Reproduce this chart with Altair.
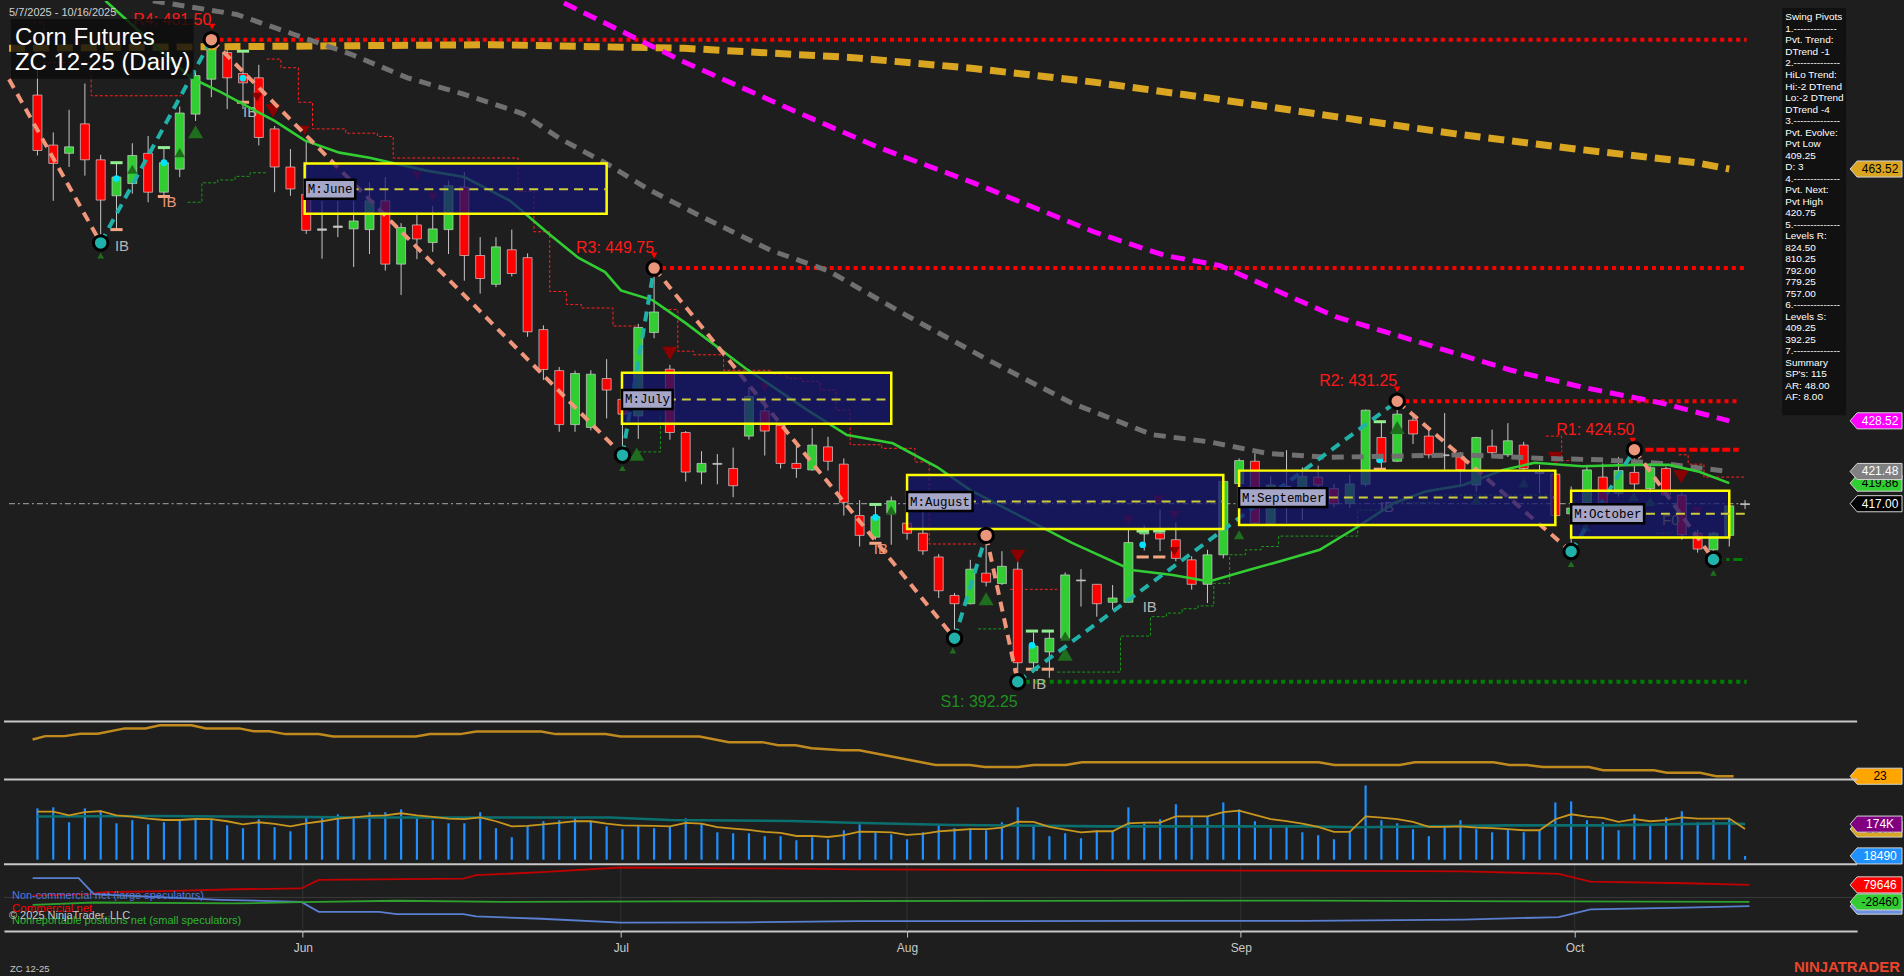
import altair as alt
import pandas as pd

FONT = "Liberation Sans"
NARROW = "Liberation Sans Narrow, Liberation Sans"
MONO = "Liberation Mono"
BG = "#1e1e1e"
LINE_C = "#c8c8c8"

# ---------------- daily bars, index 0 = 7 May 2025 ----------------
opens = [473.8, 466.85, 465.7, 469.8, 464.8, 459.8, 461.5, 465.7, 460.3, 463.5,
         471.15, 476.0, 479.7, 476.8, 476.2, 469.1, 463.8, 460.0, 455.2, 455.4,
         455.2, 455.1, 459.1, 450.3, 455.75, 453.3, 455.1, 461.0, 451.5, 447.5,
         452.3, 451.2, 441.2, 435.5, 428.0, 427.6, 434.4, 431.5, 429.2, 440.8,
         435.7, 426.9, 421.4, 422.6, 421.9, 426.4, 429.9, 427.9, 422.6, 421.7,
         424.9, 422.5, 415.35, 412.35, 415.7, 414.3, 412.9, 409.6, 404.25, 403.1,
         407.35, 405.9, 407.9, 394.9, 396.4, 398.3, 406.4, 405.8, 403.3, 403.3,
         412.8, 412.9, 412.0, 409.2, 405.8, 409.9, 419.8, 422.9, 414.3, 419.4,
         417.5, 420.7, 419.1, 417.05, 419.7, 426.2, 422.9, 428.6, 426.4, 423.8,
         423.5, 419.6, 425.0, 423.8, 425.15, 421.4, 421.1, 415.6, 417.15, 420.7,
         418.45, 421.35, 419.1, 421.9, 418.2, 412.9, 410.6, 412.6, 417.0]
highs = [477.4, 468.6, 471.75, 475.4, 465.5, 464.5, 467.1, 468.1, 466.5, 472.2,
         477.2, 481.5, 480.4, 480.0, 478.0, 469.5, 466.3, 467.5, 459.1, 459.1,
         459.1, 461.7, 462.4, 456.0, 457.5, 458.4, 461.9, 463.1, 454.05, 454.05,
         455.1, 451.8, 441.8, 436.0, 435.5, 435.56, 437.1, 432.3, 442.0, 449.75,
         436.3, 427.1, 424.3, 423.9, 424.8, 433.2, 431.9, 428.2, 425.0, 427.5,
         426.3, 423.3, 417.5, 416.8, 418.0, 415.2, 415.9, 410.0, 404.6, 409.2,
         412.6, 410.4, 410.4, 399.1, 399.3, 407.45, 407.9, 405.8, 405.7, 413.4,
         414.0, 416.2, 414.4, 409.7, 410.6, 420.3, 423.3, 424.0, 420.8, 424.45,
         422.05, 422.3, 419.75, 421.0, 430.1, 428.4, 431.25, 429.1, 427.5, 429.6,
         424.2, 426.3, 427.3, 428.2, 425.6, 422.4, 421.45, 419.4, 422.4, 422.6,
         423.5, 424.5, 422.6, 422.15, 418.9, 413.4, 413.1, 418.0, 417.5]
lows = [465.4, 459.1, 463.8, 462.6, 453.25, 455.1, 460.1, 458.9, 459.6, 462.4,
        470.2, 473.5, 471.85, 471.85, 466.8, 460.3, 459.8, 454.5, 451.05, 454.05,
        449.9, 451.7, 449.4, 446.0, 451.0, 452.0, 451.7, 448.0, 446.2, 447.1,
        448.6, 440.2, 434.2, 427.0, 427.0, 427.2, 428.85, 423.75, 426.0, 440.0,
        425.9, 420.1, 419.7, 419.7, 417.9, 425.9, 423.7, 421.9, 420.6, 421.6,
        421.6, 415.35, 411.05, 412.0, 411.3, 412.0, 409.9, 403.9, 398.3, 403.0,
        405.5, 405.7, 392.25, 393.5, 392.8, 398.1, 402.7, 401.3, 402.3, 403.2,
        410.5, 410.4, 409.0, 405.05, 403.2, 409.4, 418.5, 414.05, 414.2, 414.3,
        414.75, 417.05, 416.5, 416.4, 419.4, 421.7, 422.8, 425.3, 423.3, 421.7,
        419.3, 418.7, 423.5, 423.5, 421.7, 418.45, 415.2, 410.35, 414.0, 415.9,
        418.0, 418.9, 418.45, 418.0, 412.0, 410.2, 409.25, 411.05, 416.25]
closes = [466.1, 464.3, 466.6, 464.8, 459.2, 462.4, 465.4, 460.3, 464.4, 471.3,
          476.5, 480.4, 476.2, 475.5, 467.9, 463.8, 460.75, 455.0, 455.0, 455.6,
          456.3, 459.1, 450.3, 455.4, 453.8, 455.2, 461.2, 451.5, 448.3, 452.7,
          449.0, 440.9, 435.65, 428.0, 435.1, 435.0, 432.8, 429.45, 441.5, 443.65,
          426.9, 421.4, 422.6, 422.5, 419.5, 431.9, 427.1, 422.6, 421.9, 425.15,
          422.9, 417.2, 412.6, 415.2, 417.4, 412.9, 410.45, 404.9, 403.1, 407.9,
          406.1, 408.3, 394.9, 397.2, 398.3, 407.1, 406.3, 403.1, 403.9, 411.6,
          413.3, 412.1, 409.4, 405.8, 409.9, 420.1, 423.0, 414.3, 419.6, 419.3,
          420.8, 419.6, 417.0, 419.75, 430.0, 422.8, 429.45, 426.7, 423.8, 423.7,
          421.7, 426.2, 424.1, 425.75, 421.9, 421.2, 415.35, 416.4, 421.7, 416.1,
          421.6, 419.75, 422.0, 418.2, 412.7, 410.7, 412.9, 416.7, 417.0]

# volume (thousands of contracts) and its averages
volume_k = [251, 256, 183, 251, 241, 178, 193, 173, 183, 198,
            202, 198, 168, 154, 198, 159, 139, 212, 212, 222,
            212, 232, 232, 246, 202, 193, 178, 178, 232, 154,
            110, 163, 188, 193, 207, 188, 163, 149, 168, 154,
            163, 202, 178, 134, 129, 129, 115, 115, 95, 110,
            100, 144, 173, 134, 124, 100, 134, 168, 154, 154,
            144, 183, 256, 168, 115, 129, 105, 144, 139, 256,
            178, 198, 271, 207, 212, 280, 246, 188, 154, 168,
            134, 120, 100, 134, 363, 193, 178, 149, 115, 159,
            193, 149, 134, 149, 134, 144, 280, 285, 193, 183,
            144, 222, 168, 207, 237, 183, 193, 198, 18.49]
vol_fast = [235, 235, 217, 233, 237, 217, 211, 201, 194, 194,
            199, 198, 188, 173, 183, 175, 163, 178, 188, 201,
            207, 214, 217, 227, 217, 209, 201, 198, 207, 188,
            163, 165, 173, 180, 189, 188, 176, 168, 167, 165,
            163, 180, 176, 159, 152, 146, 136, 131, 116, 116,
            111, 120, 137, 136, 134, 121, 126, 139, 144, 149,
            149, 157, 186, 185, 160, 147, 134, 139, 139, 178,
            181, 181, 212, 212, 212, 233, 240, 219, 198, 189,
            176, 160, 136, 136, 212, 206, 198, 185, 160, 160,
            163, 157, 154, 149, 144, 144, 198, 222, 211, 204,
            185, 198, 188, 193, 207, 201, 201, 201, 150]
vol_slow_i = [0, 7.7, 21.0, 36.2, 40.0, 47.7, 51.5, 57.9, 67.4, 80.3, 83.5, 93.0, 99.4, 107.0, 108]
vol_slow_v = [211, 214, 206, 206, 194, 189, 181, 170, 163, 163, 159, 168, 168, 178, 174]

# trend strength
adx_i = [0.0, 0.8, 2.0, 3.0, 4.1, 5.8, 7.1, 8.0, 10.0, 10.9, 13.0, 13.9, 14.9, 15.9, 18.0,
         18.9, 24.1, 25.0, 26.9, 27.9, 32.0, 32.9, 36.05, 37.0, 41.95, 43.8, 45.9, 46.9, 48.0,
         49.0, 50.9, 52.0, 56.8, 58.96, 59.9, 62.0, 62.96, 65.0, 66.0, 80.9, 81.9, 86.0, 86.95,
         91.9, 92.9, 94.0, 95.0, 97.9, 98.8, 102.0, 102.8, 104.9, 105.9, 107.0]
adx_v = [35.9, 37.1, 37.1, 37.9, 37.9, 39.8, 39.8, 40.9, 40.9, 39.8, 39.8, 38.8, 38.8, 37.8, 37.8,
         37.0, 37.0, 37.8, 37.8, 38.7, 38.7, 37.8, 37.8, 37.0, 37.0, 35.0, 35.0, 33.9, 33.9,
         32.9, 32.2, 32.2, 27.0, 27.0, 26.3, 26.3, 27.0, 27.0, 28.0, 28.0, 27.0, 27.0, 28.0,
         28.0, 27.0, 27.0, 26.3, 26.3, 25.2, 25.2, 24.3, 24.3, 23.1, 23.1]

# commitments of traders (thousands of contracts)
cot_red_i = [0, 3.6, 4.5, 8.9, 12.8, 16.9, 18.0, 27.1, 27.9, 32, 37, 45, 52, 60, 70, 80, 90, 96, 98, 104, 108]
cot_red_v = [12, 21, 33, 42, 52, 57, 111, 120, 141, 160, 190, 185, 178, 175, 172, 170, 165, 150, 100, 90, 79.646]
cot_blue_i = [0, 2.9, 3.85, 11.8, 16.9, 18.0, 21.8, 22.9, 27.1, 27.9, 32, 37, 45, 52, 60, 70, 80, 90, 96, 98, 104, 108]
cot_blue_v = [122, 122, 21, -15, -28, -91, -91, -106, -106, -120, -135, -160, -158, -150, -150, -148, -148, -140, -125, -75, -65, -55]
cot_green_i = [0, 3.85, 12.8, 16.9, 18.0, 22.9, 29.6, 40, 60, 80, 96, 108]
cot_green_v = [-47, -32, -38, -30, -28, -21, -28, -25, -22, -20, -25, -28.46]

# moving averages (bar index, price)
ma_green_i = [4.3, 9.7, 11.6, 15.0, 16.9, 19.1, 21.0, 24.6, 27.0, 29.9, 32.3, 34.2, 35.9, 36.9, 38.9,
              41.0, 44.8, 48.7, 51.2, 54.1, 56.9, 59.0, 61.0, 65.4, 69.2, 71.8, 74.1, 76.6, 78.6,
              81.1, 83.5, 85.8, 87.8, 90.2, 92.7, 94.7, 97.7, 101.1, 103.2, 105.1, 107.0]
ma_green_v = [486.9, 476.2, 474.2, 470.2, 467.5, 465.8, 465.1, 463.3, 462.4, 459.1, 454.6, 451.2, 449.2,
              446.65, 445.3, 442.1, 435.8, 430.0, 426.55, 425.4, 422.1, 418.9, 416.6, 411.6, 407.8,
              407.1, 406.2, 407.8, 409.0, 410.6, 413.8, 417.1, 418.7, 419.6, 421.7, 422.7, 422.2,
              422.4, 422.4, 421.45, 419.86]
ma_grey_i = [7.3, 12.6, 16.2, 19.8, 23.4, 27.0, 30.7, 33.0, 36.05, 38.8, 42.1, 46.4, 50.0, 55.1,
             60.2, 65.4, 70.5, 74.1, 77.8, 81.6, 85.3, 90.2, 95.2, 98.95, 102.7, 107.0]
ma_grey_v = [486.9, 485.0, 482.25, 479.5, 476.2, 473.9, 471.2, 467.8, 464.2, 460.5, 456.8, 452.2,
             449.4, 443.0, 436.9, 431.0, 426.6, 425.6, 424.0, 423.45, 423.6, 423.8, 423.3, 423.1,
             422.6, 421.48]
ma_mag_i = [33.3, 40.9, 47.7, 53.1, 59.2, 66.8, 71.3, 74.8, 82.1, 93.2, 97.7, 102.7, 107.0]
ma_mag_v = [486.6, 478.4, 471.75, 466.6, 461.6, 454.8, 451.5, 450.1, 443.0, 435.55, 433.2, 431.0, 428.52]
ma_gold_i = [-1.8, 10.4, 28.7, 40.9, 51.6, 59.2, 66.8, 74.4, 82.1, 89.7, 97.3, 104.9, 107.0]
ma_gold_v = [480.3, 480.5, 480.8, 480.3, 479.0, 477.5, 475.6, 473.3, 470.8, 468.4, 466.3, 464.4, 463.52]

# swing pivots (bar index, price) in time order
swing_i = [-1.8, 4, 11, 37, 39, 58, 60, 62, 86, 97, 101, 106]
swing_v = [476.0, 453.25, 481.5, 423.75, 449.75, 398.3, 412.6, 392.25, 431.25, 410.35, 424.5, 409.25]

# trailing stops: list of step paths
red_stops = [
    [(-0.25, 483.9), (0.4, 483.9), (0.4, 478.3), (3.4, 478.3), (3.4, 473.7), (9.1, 473.7)],
    [(14.5, 478.8), (15.4, 478.8), (15.4, 477.6), (16.5, 477.6), (16.5, 472.8), (17.4, 472.8),
     (17.4, 469.1), (19.5, 469.1), (19.5, 468.5), (21.5, 468.5), (21.5, 468.05), (22.5, 468.05),
     (22.5, 465.05), (30.4, 465.05), (30.4, 460.4), (31.4, 460.4), (31.4, 454.8), (32.4, 454.8),
     (32.4, 446.5), (33.45, 446.5), (33.45, 444.7), (34.4, 444.7), (34.4, 444.2), (36.4, 444.2),
     (36.4, 441.7), (38.0, 441.7)],
    [(39.6, 444.0), (40.5, 444.0), (40.5, 438.2), (41.5, 438.2), (41.5, 437.7), (43.4, 437.7),
     (43.4, 435.55), (46.4, 435.55), (46.4, 435.0), (47.4, 435.0), (47.4, 434.4), (48.4, 434.4),
     (48.4, 434.0), (49.5, 434.0), (49.5, 432.8), (50.5, 432.8), (50.5, 430.0), (51.4, 430.0),
     (51.4, 425.2), (53.4, 425.2), (53.4, 424.7), (55.5, 424.7), (55.5, 422.8), (56.4, 422.8),
     (56.4, 411.4), (59.5, 411.4)],
    [(61.5, 405.1), (64.5, 405.1)],
    [(95.4, 426.4), (96.4, 426.4), (96.4, 423.0), (97.0, 423.0)],
    [(103.8, 423.8), (104.4, 423.8), (104.4, 422.5), (105.4, 422.5), (105.4, 420.7), (108.0, 420.7)],
]
green_stops = [
    [(9.5, 458.9), (10.4, 458.9), (10.4, 461.6), (11.4, 461.6), (11.4, 462.0), (12.5, 462.0),
     (12.5, 462.5), (13.45, 462.5), (13.45, 463.0), (14.5, 463.0)],
    [(38.0, 424.2), (39.4, 424.2), (39.4, 429.6)],
    [(59.5, 399.6), (61.25, 399.6)],
    [(64.5, 393.6), (68.5, 393.6), (68.5, 398.6), (70.4, 398.6), (70.4, 401.3), (71.4, 401.3),
     (71.4, 401.8), (72.4, 401.8), (72.4, 402.4), (73.4, 402.4), (73.4, 402.8), (74.4, 402.8),
     (74.4, 405.95), (75.4, 405.95), (75.4, 409.9), (76.4, 409.9), (76.4, 410.6), (77.4, 410.6),
     (77.4, 411.05), (78.5, 411.05), (78.5, 412.5), (83.5, 412.5), (83.5, 416.1), (85.4, 416.1),
     (85.4, 417.15), (88.4, 417.15), (88.4, 418.2), (95.8, 418.2)],
    [(102.4, 412.9), (103.4, 412.9)],
]

# signal triangles
up_i = [10.0, 9.0, 6.0, 4.0, 37.9, 37.0, 54.0, 60.0, 57.9, 65.0, 65.0, 86.0, 76.0, 94.0, 91.0,
        97.9, 100.95, 102.0, 97.0, 106.0]
up_v = [468.7, 465.8, 463.5, 451.5, 423.9, 421.96, 416.1, 403.8, 396.6, 398.6, 396.1, 427.6, 412.7,
        419.9, 417.5, 413.8, 418.0, 417.3, 408.6, 407.4]
up_kind = ["L", "M", "M", "S", "L", "S", "M", "L", "S", "M", "L", "L", "M", "M", "M", "M", "M", "M", "S", "S"]
dn_i = [11.05, 13.9, 14.9, 16.9, 18.9, 24.0, 25.0, 39.0, 40.0, 46.0, 62.0, 69.0, 70.9, 71.9, 71.9,
        86.0, 96.0, 103.95, 105.0, 100.9]
dn_v = [483.3, 473.5, 471.6, 468.9, 463.75, 462.6, 459.6, 451.5, 437.9, 433.2, 409.7, 414.75, 417.5,
        415.4, 410.35, 432.9, 423.3, 420.75, 415.9, 425.75]
dn_kind = ["S", "M", "L", "M", "M", "M", "M", "S", "L", "M", "L", "M", "M", "M", "M", "S", "L", "L", "M", "S"]

# inside-bar markers
ib_i = [5.0, 8.0, 13.0, 53.0, 62.9, 69.9, 84.9]
ib_hi = [464.4, 466.5, 479.9, 416.9, 399.3, 413.2, 428.4]
ib_lo = [455.1, 459.7, 472.8, 411.5, 394.0, 409.6, 421.8]
ib_dot = [462.2, 464.4, 476.15, 415.1, 397.3, 411.3, 423.1]
ib_extra_i = [63.9, 70.95]
ib_extra_hi = [399.3, 413.2]
ib_extra_lo = [394.0, 409.6]
ib_text_i = [4.9, 7.9, 13.0, 52.9, 62.9, 69.9, 84.9]
ib_text_v = [452.8, 459.0, 471.5, 410.7, 391.9, 402.7, 416.6]
ib_text_c = ["#b4b4b4", "#e9967a", "#b4b4b4", "#e9967a", "#b4b4b4", "#b4b4b4", "#b4b4b4"]

# monthly opening-range boxes
box_names = ["M:June", "M:July", "M:August", "M:September", "M:October"]
box_left = [16.9, 36.97, 55.0, 76.0, 97.0]
box_right = [36.0, 54.0, 75.0, 96.0, 107.0]
box_top = [464.3, 435.2, 421.0, 421.6, 418.8]
box_bot = [457.3, 428.1, 413.5, 414.05, 412.3]
box_mid = [460.7, 431.5, 417.3, 417.85, 415.6]
box_mid_end = [36.0, 54.0, 75.0, 96.0, 108.0]

# pivot levels
level_names = ["R4", "R3", "R2", "R1", "S1"]
level_i = [11, 39, 86, 101, 62]
level_v = [481.5, 449.75, 431.25, 424.5, 392.25]
level_end = [108.1, 108.1, 107.6, 107.6, 108.1]
pvt_low_now = 409.25
last_price = 417.0

month_ticks = [17, 37, 55, 76, 97]
month_names = ["Jun", "Jul", "Aug", "Sep", "Oct"]

info_lines = ["Swing Pivots", "1.-------------", "Pvt. Trend:", "DTrend -1", "2.--------------",
              "HiLo Trend:", "Hi:-2 DTrend", "Lo:-2 DTrend", "DTrend -4", "3.--------------",
              "Pvt. Evolve:", "Pvt Low", "409.25", "D: 3", "4.--------------", "Pvt. Next:",
              "Pvt High", "420.75", "5.--------------", "Levels R:", "824.50", "810.25", "792.00",
              "779.25", "757.00", "6.--------------", "Levels S:", "409.25", "392.25",
              "7.--------------", "Summary", "SP's: 115", "AR: 48.00", "AF: 8.00"]

# ---------------- scales ----------------
W = 1857
BAR_PX = 15.93
PRICE_PX = 7.21
XS = alt.Scale(domain=[-1.8, 114.77], nice=False, zero=False)
YS = alt.Scale(domain=[386.73, 486.87], nice=False, zero=False)
YA = alt.Scale(domain=[22.0, 42.2], nice=False, zero=False)
YV = alt.Scale(domain=[-22, 392.6], nice=False, zero=False)
YC = alt.Scale(domain=[-213.2, 210.8], nice=False, zero=False)
TAG = "M -1 0 L -0.73 -0.31 L 1 -0.31 L 1 0.31 L -0.73 0.31 Z"
ONE = pd.DataFrame({"a": [0]})

label_expr = " : ".join(f"datum.value == {t} ? '{n}'" for t, n in zip(month_ticks, month_names)) + " : ''"
X_AXIS = alt.Axis(values=month_ticks, labelExpr=label_expr, orient="bottom", title=None,
                  labelColor="#c8c8c8", labelFont=FONT, labelFontSize=12, tickColor=LINE_C,
                  tickSize=6, domainColor=LINE_C, domainWidth=2, grid=False, labelPadding=5)


def X(f="i", axis=None):
    return alt.X(f"{f}:Q", scale=XS, axis=axis)


def Y(f, s):
    return alt.Y(f"{f}:Q", scale=s, axis=None)


def path_df(paths):
    rows = []
    for s, pts in enumerate(paths):
        for k, (i, v) in enumerate(pts):
            rows.append({"seg": s, "k": k, "i": i, "v": v})
    return pd.DataFrame(rows)


def line_layer(xs, ys, scale, color, width, dash=None, clip=True, xaxis=None):
    d = pd.DataFrame({"i": xs, "v": ys})
    d["k"] = range(len(d))
    kw = dict(color=color, strokeWidth=width, clip=clip)
    if dash:
        kw["strokeDash"] = dash
    return alt.Chart(d).mark_line(**kw).encode(x=X("i", xaxis), y=Y("v", scale), order="k:Q")


def tag_layers(vals, labels, bgs, fgs, scale):
    out = []
    for v, lab, bg, fg in zip(vals, labels, bgs, fgs):
        d = pd.DataFrame({"v": [v], "lab": [lab]})
        out.append(alt.Chart(d).mark_point(shape=TAG, size=2704, filled=True, opacity=1,
                                           fill=bg, stroke="#d4d4d4", strokeWidth=1)
                   .encode(x=alt.value(1876), y=Y("v", scale)))
        out.append(alt.Chart(d).mark_text(font=FONT, fontSize=12, color=fg, align="center",
                                          baseline="middle")
                   .encode(x=alt.value(1880), y=Y("v", scale), text="lab:N"))
    return out


def sep_line(ypx):
    return alt.Chart(ONE).mark_rule(color=LINE_C, strokeWidth=2).encode(
        x=alt.value(0), x2=alt.value(W), y=alt.value(ypx))


# ---------------- price panel ----------------
bars = pd.DataFrame({"i": list(range(len(opens))), "o": opens, "h": highs, "l": lows, "c": closes})
bars["c2"] = [c if abs(c - o) >= 0.12 else o - 0.12 for o, c in zip(opens, closes)]
bars["col"] = ["#32cd32" if c - o > 0.25 else ("#ff0000" if o - c > 0.25 else "#bdbdbd")
               for o, c in zip(opens, closes)]

price_axis = alt.Axis(orient="right", values=list(range(390, 490, 5)), format=".2f", title=None,
                      labelColor="#c9d1dc", labelFont=FONT, labelFontSize=12, tickColor=LINE_C,
                      tickSize=5, domainColor=LINE_C, domainWidth=1.5, grid=False, labelPadding=3)

layers = []

# trailing stops
rs = path_df(red_stops)
layers.append(alt.Chart(rs).mark_line(color="#ff2020", strokeWidth=1, strokeDash=[3, 2])
              .encode(x=X(), y=Y("v", YS), detail="seg:N", order="k:Q"))
gs = path_df(green_stops)
layers.append(alt.Chart(gs).mark_line(color="#1a9a1a", strokeWidth=1, strokeDash=[3, 2])
              .encode(x=X(), y=Y("v", YS), detail="seg:N", order="k:Q"))

# pivot level lines
lv = pd.DataFrame({"name": level_names, "i": level_i, "v": level_v, "e": level_end})
lv["txt"] = [f"{n}: {v:.2f}" for n, v in zip(level_names, level_v)]
layers.append(alt.Chart(lv[lv.name.isin(["R4", "R3", "R2"])]).mark_rule(
    color="#ff0000", strokeWidth=4, strokeDash=[4, 4]).encode(x=X(), x2="e:Q", y=Y("v", YS)))
layers.append(alt.Chart(lv[lv.name == "R1"]).mark_rule(
    color="#ff0000", strokeWidth=4, strokeDash=[8, 3]).encode(x=X(), x2="e:Q", y=Y("v", YS)))
layers.append(alt.Chart(lv[lv.name == "S1"]).mark_rule(
    color="#008000", strokeWidth=4, strokeDash=[4, 4]).encode(x=X(), x2="e:Q", y=Y("v", YS)))
layers.append(alt.Chart(pd.DataFrame({"i": [106], "e": [108.1], "v": [pvt_low_now]})).mark_rule(
    color="#008000", strokeWidth=3, strokeDash=[9, 4, 3, 4]).encode(x=X(), x2="e:Q", y=Y("v", YS)))

# last price line
layers.append(alt.Chart(pd.DataFrame({"i": [-1.8], "e": [107.8], "v": [last_price]})).mark_rule(
    color="#8c8c8c", strokeWidth=1.2, strokeDash=[6, 3, 2, 3]).encode(x=X(), x2="e:Q", y=Y("v", YS)))

# candles
layers.append(alt.Chart(bars).mark_rule(color="#c8c8c8", strokeWidth=1).encode(
    x=X(), y=alt.Y("l:Q", scale=YS, axis=price_axis), y2="h:Q"))
layers.append(alt.Chart(bars).mark_bar(size=9, stroke="#d0d0d0", strokeWidth=0.7).encode(
    x=X(), y=Y("o", YS), y2="c2:Q", fill=alt.Fill("col:N", scale=None)))

# signal triangles
size_of = {"S": 45, "M": 110, "L": 230}
up = pd.DataFrame({"i": up_i, "v": up_v, "s": [size_of[k] for k in up_kind]})
dn = pd.DataFrame({"i": dn_i, "v": dn_v, "s": [size_of[k] for k in dn_kind],
                   "col": ["#ff0000" if k == "S" else "#8b0000" for k in dn_kind]})
layers.append(alt.Chart(up).mark_point(shape="triangle-up", filled=True, opacity=1, color="#1e6e1e")
              .encode(x=X(), y=Y("v", YS), size=alt.Size("s:Q", scale=None)))
layers.append(alt.Chart(dn).mark_point(shape="triangle-down", filled=True, opacity=1)
              .encode(x=X(), y=Y("v", YS), size=alt.Size("s:Q", scale=None),
                      color=alt.Color("col:N", scale=None)))

# inside-bar markers
ibm = pd.DataFrame({"i": ib_i + ib_extra_i, "hi": ib_hi + ib_extra_hi, "lo": ib_lo + ib_extra_lo})
layers.append(alt.Chart(ibm).mark_point(shape="stroke", size=150, strokeWidth=3, opacity=1,
                                        color="#90ee90").encode(x=X(), y=Y("hi", YS)))
layers.append(alt.Chart(ibm).mark_point(shape="stroke", size=150, strokeWidth=3, opacity=1,
                                        color="#f4a582").encode(x=X(), y=Y("lo", YS)))
layers.append(alt.Chart(pd.DataFrame({"i": ib_i, "v": ib_dot})).mark_point(
    shape="circle", filled=True, size=45, opacity=1, color="#00e5ff").encode(x=X(), y=Y("v", YS)))
ibt = pd.DataFrame({"i": ib_text_i, "v": ib_text_v, "col": ib_text_c, "t": ["IB"] * len(ib_text_i)})
layers.append(alt.Chart(ibt).mark_text(font=NARROW, fontSize=15, align="left", baseline="middle")
              .encode(x=X(), y=Y("v", YS), text="t:N", color=alt.Color("col:N", scale=None)))
layers.append(alt.Chart(pd.DataFrame({"i": [103.3], "v": [414.75], "t": ["F0"]})).mark_text(
    font=NARROW, fontSize=15, color="#b5b53c", align="center", baseline="middle")
    .encode(x=X(), y=Y("v", YS), text="t:N"))

# moving averages
layers.append(line_layer(ma_gold_i, ma_gold_v, YS, "#daa520", 7, [16, 8]))
layers.append(line_layer(ma_mag_i, ma_mag_v, YS, "#ff00ff", 5, [14, 8]))
layers.append(line_layer(ma_grey_i, ma_grey_v, YS, "#707070", 5, [12, 8]))
layers.append(line_layer(ma_green_i, ma_green_v, YS, "#32cd32", 2.6))

# swing zigzag
zz = []
for j in range(len(swing_i) - 1):
    down = swing_v[j + 1] < swing_v[j]
    for k in (0, 1):
        zz.append({"seg": j, "k": k, "i": swing_i[j + k], "v": swing_v[j + k],
                   "col": "#f0967a" if down else "#20b2aa"})
zz = pd.DataFrame(zz)
layers.append(alt.Chart(zz).mark_line(strokeWidth=4, strokeDash=[10, 7]).encode(
    x=X(), y=Y("v", YS), detail="seg:N", order="k:Q", color=alt.Color("col:N", scale=None)))

# monthly boxes
bx = pd.DataFrame({"name": box_names, "i": box_left, "r": box_right, "top": box_top,
                   "bot": box_bot, "mid": box_mid, "me": box_mid_end})
bx["lx2"] = [l + (len(n) * 7.5 + 6) / BAR_PX for l, n in zip(box_left, box_names)]
bx["ly1"] = [m + 9.5 / PRICE_PX for m in box_mid]
bx["ly2"] = [m - 9.5 / PRICE_PX for m in box_mid]
layers.append(alt.Chart(bx).mark_rect(fill="#141470", fillOpacity=0.74).encode(
    x=X(), x2="r:Q", y=Y("top", YS), y2="bot:Q"))
layers.append(alt.Chart(bx).mark_rect(fillOpacity=0, stroke="#ffff00", strokeWidth=2.5).encode(
    x=X(), x2="r:Q", y=Y("top", YS), y2="bot:Q"))
layers.append(alt.Chart(bx).mark_rule(color="#cccc3c", strokeWidth=2, strokeDash=[9, 6]).encode(
    x=X(), x2="me:Q", y=Y("mid", YS)))
layers.append(alt.Chart(bx).mark_rect(fill="#a6a6c8", stroke="#000000", strokeWidth=2.5).encode(
    x=X(), x2="lx2:Q", y=Y("ly1", YS), y2="ly2:Q"))
layers.append(alt.Chart(bx).mark_text(font=MONO, fontSize=12.5, color="#000000", align="left",
                                      baseline="middle", dx=3).encode(
    x=X(), y=Y("mid", YS), text="name:N"))

# pivot circles
pv = pd.DataFrame({"i": swing_i[1:], "v": swing_v[1:]})
pv["col"] = ["#20b2aa" if swing_v[j + 1] < swing_v[j] else "#e9967a" for j in range(len(swing_i) - 1)]
layers.append(alt.Chart(pv).mark_point(shape="circle", filled=True, size=210, opacity=1,
                                       stroke="#000000", strokeWidth=3)
              .encode(x=X(), y=Y("v", YS), fill=alt.Fill("col:N", scale=None)))

# level labels
layers.append(alt.Chart(lv[lv.name != "S1"]).mark_text(font=NARROW, fontSize=16, color="#ff1a1a",
                                                        align="right", baseline="middle", dy=-20)
              .encode(x=X(), y=Y("v", YS), text="txt:N"))
layers.append(alt.Chart(lv[lv.name == "S1"]).mark_text(font=NARROW, fontSize=16, color="#1f8f1f",
                                                        align="right", baseline="middle", dy=20)
              .encode(x=X(), y=Y("v", YS), text="txt:N"))

# title block
layers.append(alt.Chart(ONE).mark_rect(color="#0c0c0c", opacity=0.82).encode(
    x=alt.value(7), x2=alt.value(190), y=alt.value(18), y2=alt.value(78)))
layers.append(alt.Chart(ONE).mark_text(text=["Corn Futures", "ZC 12-25 (Daily)"], font=FONT,
                                       fontSize=24, lineHeight=25, color="#ffffff", align="left",
                                       baseline="alphabetic")
              .encode(x=alt.value(11), y=alt.value(44)))
layers.append(alt.Chart(ONE).mark_text(text="5/7/2025 - 10/16/2025", font=FONT, fontSize=11,
                                       color="#d0d0d0", align="left", baseline="alphabetic")
              .encode(x=alt.value(5), y=alt.value(15)))

# swing pivot summary
layers.append(alt.Chart(ONE).mark_rect(color="#111111").encode(
    x=alt.value(1782), x2=alt.value(1846), y=alt.value(7), y2=alt.value(415)))
layers.append(alt.Chart(ONE).mark_text(text=info_lines, font=FONT, fontSize=10, lineHeight=11.53,
                                       color="#ffffff", align="left", baseline="alphabetic")
              .encode(x=alt.value(1785), y=alt.value(19.5)))

# value tags on the price scale
layers += tag_layers([463.52, 428.52, 419.86, 421.48, 417.00],
                     ["463.52", "428.52", "419.86", "421.48", "417.00"],
                     ["#daa520", "#ff00ff", "#32cd32", "#808080", "#000000"],
                     ["#000000", "#ffffff", "#000000", "#ffffff", "#ffffff"], YS)

main = alt.layer(*layers).properties(width=W, height=722)

# ---------------- trend strength panel ----------------
adx_axis = alt.Axis(orient="right", values=[30, 40], labelExpr="datum.value == 30 ? '30' : ''",
                    title=None, labelColor="#c9d1dc", labelFont=FONT, labelFontSize=12,
                    tickColor=LINE_C, tickSize=5, domainColor=LINE_C, domainWidth=1.5, grid=False,
                    labelPadding=3)
adx_df = pd.DataFrame({"i": adx_i, "v": adx_v})
adx_df["k"] = range(len(adx_df))
adx = alt.layer(
    sep_line(0),
    alt.Chart(adx_df).mark_line(color="#c08a1e", strokeWidth=2.5).encode(
        x=X(), y=alt.Y("v:Q", scale=YA, axis=adx_axis), order="k:Q"),
    *tag_layers([23.1], ["23"], ["#ffa500"], ["#000000"], YA),
).properties(width=W, height=58)

# ---------------- volume panel ----------------
vol_axis = alt.Axis(orient="right", values=[100, 200, 300], labelExpr="datum.value + 'K'",
                    title=None, labelColor="#c9d1dc", labelFont=FONT, labelFontSize=12,
                    tickColor=LINE_C, tickSize=5, domainColor=LINE_C, domainWidth=1.5, grid=False,
                    labelPadding=3)
vol_df = pd.DataFrame({"i": list(range(len(volume_k))), "v": volume_k, "f": vol_fast, "z": 0})
vol = alt.layer(
    sep_line(0),
    alt.Chart(vol_df).mark_bar(size=2.2, color="#1e90ff").encode(
        x=X(), y=alt.Y("v:Q", scale=YV, axis=vol_axis), y2="z:Q"),
    line_layer(vol_slow_i, vol_slow_v, YV, "#0b6f6f", 2.6),
    alt.Chart(vol_df).mark_line(color="#c8961e", strokeWidth=1.8).encode(x=X(), y=Y("f", YV)),
    *tag_layers([150, 174, 18.49], ["150K", "174K", "18490"],
                ["#daa520", "#800080", "#1e90ff"], ["#000000", "#ffffff", "#ffffff"], YV),
).properties(width=W, height=85)

# ---------------- commitments of traders panel ----------------
cot_axis = alt.Axis(orient="right", labels=False, ticks=False, title=None, grid=False,
                    domainColor=LINE_C, domainWidth=1.5)
months_df = pd.DataFrame({"i": month_ticks, "z": 0})
cot = alt.layer(
    alt.Chart(months_df).mark_rule(color="#333333", strokeWidth=1).encode(
        x=X("i", X_AXIS), y=alt.value(0), y2=alt.value(67)),
    alt.Chart(months_df.head(1)).mark_rule(color="#3a3a3a", strokeWidth=1).encode(
        x=alt.value(0), x2=alt.value(W), y=alt.Y("z:Q", scale=YC, axis=cot_axis)),
    line_layer(cot_red_i, cot_red_v, YC, "#c00000", 1.8, xaxis=X_AXIS),
    line_layer(cot_blue_i, cot_blue_v, YC, "#5a7fd0", 1.8, xaxis=X_AXIS),
    line_layer(cot_green_i, cot_green_v, YC, "#2ea02e", 1.8, xaxis=X_AXIS),
    sep_line(0),
    alt.Chart(ONE).mark_text(text="Non-commercial net (large speculators)", font=FONT, fontSize=11,
                             color="#4f78dc", align="left", baseline="middle")
    .encode(x=alt.value(8), y=alt.value(32)),
    alt.Chart(ONE).mark_text(text="Commercial net", font=FONT, fontSize=11.5, color="#ff0000",
                             align="left", baseline="middle")
    .encode(x=alt.value(8), y=alt.value(45)),
    alt.Chart(ONE).mark_text(text="Nonreportable positions net (small speculators)", font=FONT,
                             fontSize=11, color="#2eb82e", align="left", baseline="middle")
    .encode(x=alt.value(8), y=alt.value(57)),
    alt.Chart(ONE).mark_text(text="© 2025 NinjaTrader, LLC", font=FONT, fontSize=11,
                             color="#c8c8c8", align="left", baseline="middle")
    .encode(x=alt.value(5), y=alt.value(52)),
    alt.Chart(ONE).mark_text(text="ZC 12-25", font=FONT, fontSize=9.5, color="#c8c8c8",
                             align="left", baseline="middle")
    .encode(x=alt.value(6), y=alt.value(105)),
    alt.Chart(ONE).mark_text(text="NINJATRADER", font=FONT, fontSize=15, fontWeight="bold",
                             color="#e8462c", align="right", baseline="middle")
    .encode(x=alt.value(1900), y=alt.value(103)),
    *tag_layers([-55, 79.646, -28.46], ["", "79646", "-28460"],
                ["#6a8fe0", "#ff0000", "#32cd32"], ["#ffffff", "#ffffff", "#000000"], YC),
).properties(width=W, height=67)

chart = alt.vconcat(main, adx, vol, cot, spacing=0, bounds="flush").properties(
    padding=0, background=BG
).configure_view(stroke=None)

chart.save("out.html", embed_options={"renderer": "svg", "actions": False})
